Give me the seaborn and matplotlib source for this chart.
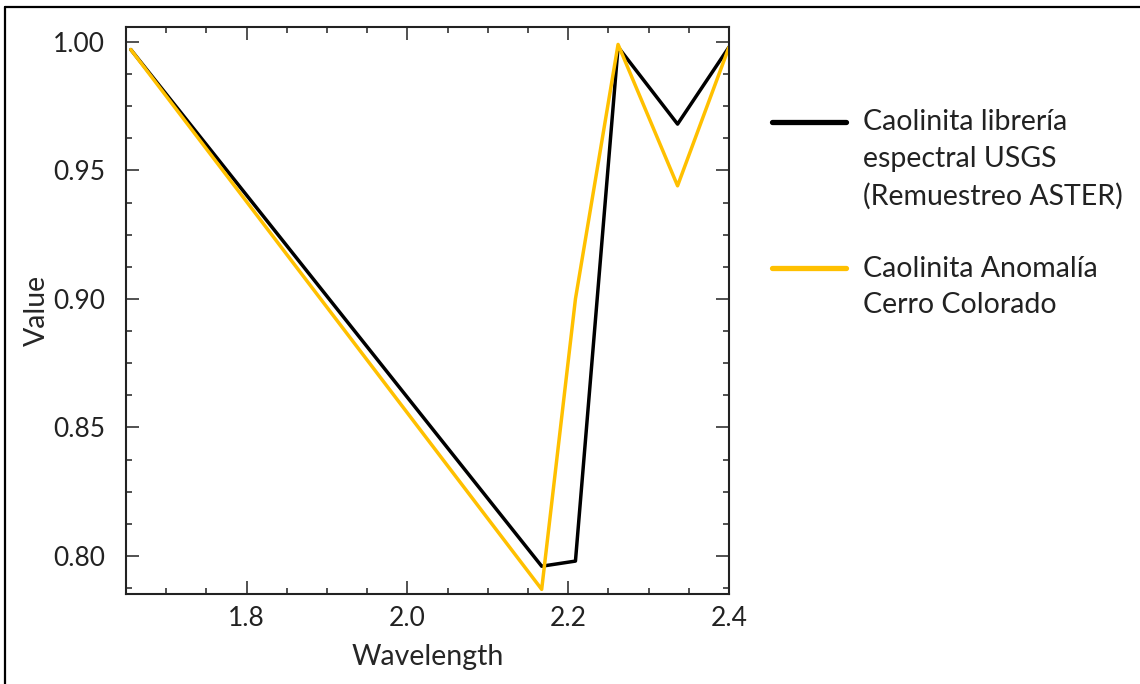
import numpy as np
import pandas as pd
import matplotlib
matplotlib.use("Agg")
import matplotlib.pyplot as plt
from matplotlib.lines import Line2D
from matplotlib.legend_handler import HandlerLine2D
from matplotlib.ticker import MultipleLocator
import seaborn as sns

# ASTER SWIR band centres (micrometres)
wavelength = [1.656, 2.167, 2.209, 2.262, 2.336, 2.400]
usgs_kaolinite = [0.997, 0.796, 0.798, 0.998, 0.968, 0.998]
anomaly_kaolinite = [0.997, 0.787, 0.900, 0.999, 0.944, 0.998]

label_usgs = "Caolinita librería\nespectral USGS\n(Remuestreo ASTER)"
label_anom = "Caolinita Anomalía\nCerro Colorado"

df = pd.DataFrame({
    "Wavelength": wavelength * 2,
    "Value": usgs_kaolinite + anomaly_kaolinite,
    "serie": [label_usgs] * len(wavelength) + [label_anom] * len(wavelength),
})


class FirstLineHandler(HandlerLine2D):
    # puts the legend line next to the first row of a multi-line label
    def __init__(self, shift, **kw):
        super().__init__(**kw)
        self.shift = shift

    def create_artists(self, legend, orig_handle, xdescent, ydescent,
                       width, height, fontsize, trans):
        arts = super().create_artists(legend, orig_handle, xdescent, ydescent,
                                      width, height, fontsize, trans)
        for a in arts:
            a.set_ydata(np.asarray(a.get_ydata()) + self.shift * fontsize)
        return arts


sns.set_style("ticks")
plt.rcParams["font.family"] = ["Lato", "DejaVu Sans"]
plt.rcParams["text.color"] = "#222222"

fig = plt.figure(figsize=(11.4, 6.84), dpi=100)
ax = fig.add_axes([0.1105, 0.1316, 0.529, 0.829])

sns.lineplot(data=df, x="Wavelength", y="Value", hue="serie",
             palette={label_usgs: "black", label_anom: "#FFC000"},
             linewidth=2.5, ax=ax)

ax.set_xlim(1.65, 2.4)
ax.set_ylim(0.7852, 1.0058)
ax.xaxis.set_major_locator(MultipleLocator(0.2))
ax.xaxis.set_minor_locator(MultipleLocator(0.05))
ax.yaxis.set_major_locator(MultipleLocator(0.05))
ax.yaxis.set_minor_locator(MultipleLocator(0.0125))
ax.xaxis.set_major_formatter(plt.FormatStrFormatter("%.1f"))
ax.yaxis.set_major_formatter(plt.FormatStrFormatter("%.2f"))

ax.tick_params(which="both", direction="in", top=True, right=True,
               width=1.1, color="#222222", labelcolor="#222222", labelsize=19)
ax.tick_params(which="major", length=9.5)
ax.tick_params(which="minor", length=4.3)
ax.tick_params(axis="y", pad=15)
ax.tick_params(axis="x", pad=9)
for s in ax.spines.values():
    s.set_linewidth(1.5)
    s.set_color("#222222")

ax.set_xlabel("Wavelength", fontsize=20.5, labelpad=9)
ax.set_ylabel("Value", fontsize=20.5, labelpad=2)

handles, labels = ax.get_legend_handles_labels()
line_shift = 0.67
hmap = {h: FirstLineHandler(line_shift * lab.count("\n")) for h, lab in zip(handles, labels)}
leg = ax.legend(handles, labels, loc="upper left", bbox_to_anchor=(1.028, 0.9),
                frameon=False, fontsize=20.5, handlelength=2.6, handletextpad=0.6,
                labelspacing=1.62, handler_map=hmap)
for t in leg.get_texts():
    t.set_linespacing(1.5)
for h in leg.get_lines():
    h.set_linewidth(3.8)

# border of the pasted screenshot (top and left edges only)
fig.add_artist(Line2D([0.0045, 0.0045], [0.0, 0.9898], color="black", lw=1.6))
fig.add_artist(Line2D([0.0045, 1.0], [0.9898, 0.9898], color="black", lw=1.6))

fig.savefig("out.png", dpi=100)
